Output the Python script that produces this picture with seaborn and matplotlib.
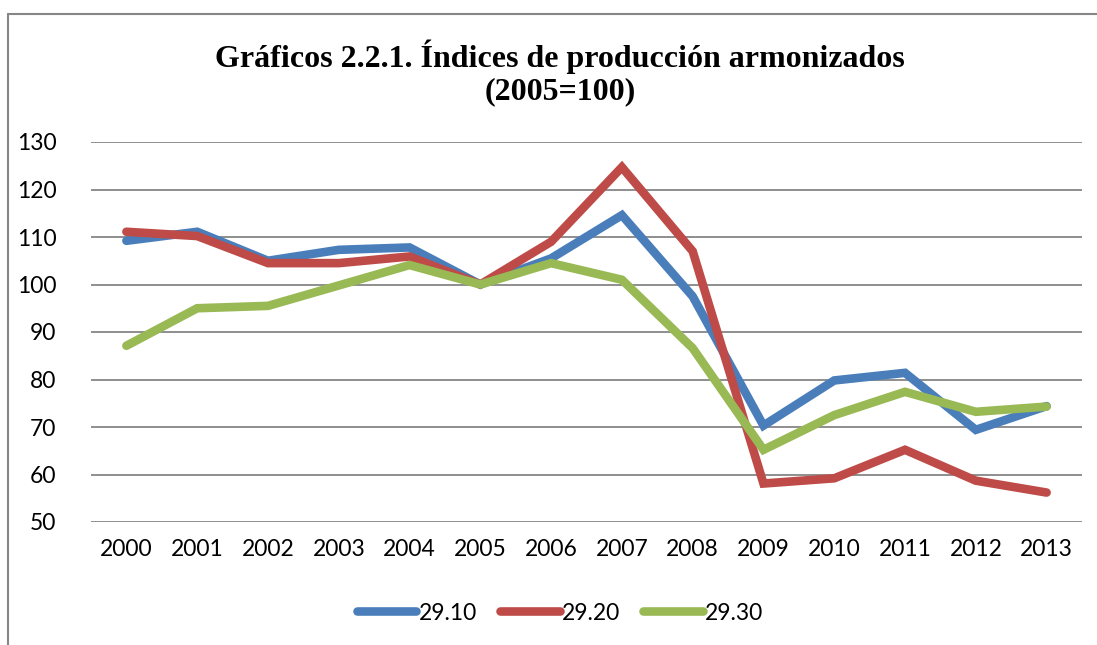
import matplotlib
matplotlib.use("Agg")
import matplotlib.pyplot as plt
import seaborn as sns
import pandas as pd
from matplotlib.lines import Line2D

years = ["2000", "2001", "2002", "2003", "2004", "2005", "2006",
         "2007", "2008", "2009", "2010", "2011", "2012", "2013"]
s_2910 = [109.2, 111.1, 105.0, 107.3, 107.8, 100.0, 105.5,
          114.6, 97.5, 70.3, 79.8, 81.4, 69.4, 74.4]
s_2920 = [111.1, 110.2, 104.5, 104.5, 105.9, 100.0, 109.0,
          124.7, 107.0, 58.1, 59.2, 65.2, 58.7, 56.2]
s_2930 = [87.1, 95.0, 95.5, 99.8, 104.1, 100.0, 104.5,
          101.0, 86.6, 65.2, 72.5, 77.4, 73.2, 74.3]
series_names = ["29.10", "29.20", "29.30"]
colors = ["#4a7ebb", "#be4b48", "#98b954"]
y_ticks = [50, 60, 70, 80, 90, 100, 110, 120, 130]
title = "Gráficos 2.2.1. Índices de producción armonizados\n(2005=100)"

rows = []
for name, vals in zip(series_names, [s_2910, s_2920, s_2930]):
    for i, (yr, v) in enumerate(zip(years, vals)):
        rows.append({"pos": i, "year": yr, "value": v, "serie": name})
df = pd.DataFrame(rows)

sns.set_theme(style="white")
plt.rcParams["font.family"] = ["Lato", "DejaVu Sans"]
plt.rcParams["text.color"] = "black"

W, H = 1097, 645
fig = plt.figure(figsize=(W / 100, H / 100), dpi=100)
ax = fig.add_axes([91 / W, 1 - 522 / H, (1082 - 91) / W, (522 - 142) / H])

sns.lineplot(data=df, x="pos", y="value", hue="serie", hue_order=series_names,
             palette=colors, linewidth=6.2, solid_capstyle="round",
             solid_joinstyle="miter", ax=ax, legend=False, zorder=3)

ax.set_xlim(-0.5, len(years) - 0.5)
ax.set_ylim(50, 130)
ax.set_yticks(y_ticks)
ax.set_yticklabels([str(t) for t in y_ticks])
ax.set_xticks(range(len(years)))
ax.set_xticklabels(years)
ax.tick_params(axis="both", length=0, labelsize=16.5, colors="black")
ax.tick_params(axis="y", pad=25)
ax.tick_params(axis="x", pad=12)
ax.set_xlabel("")
ax.set_ylabel("")
ax.yaxis.grid(True, color="#868686", linewidth=1.3)
ax.xaxis.grid(False)
for sp in ax.spines.values():
    sp.set_visible(False)

fig.text(560 / W, 1 - 73 / H, title, ha="center", va="center",
         fontsize=23, fontweight="bold", family="Liberation Serif",
         linespacing=1.15, color="black")

handles = [Line2D([0], [0], color=c, linewidth=6.2, solid_capstyle="round")
           for c in colors]
fig.legend(handles, series_names, loc="center", bbox_to_anchor=(560 / W, 1 - 613 / H),
           ncol=3, frameon=False, fontsize=16.5, handlelength=2.6,
           handletextpad=0.1, columnspacing=1.0, labelcolor="black")

# outer chart border (top and left visible)
fig.add_artist(Line2D([8 / W, 1.0], [1 - 14 / H, 1 - 14 / H], color="#868686",
                      linewidth=1.5, transform=fig.transFigure))
fig.add_artist(Line2D([8 / W, 8 / W], [1 - 14 / H, 0.0], color="#868686",
                      linewidth=1.5, transform=fig.transFigure))

fig.savefig("out.png", dpi=100)
